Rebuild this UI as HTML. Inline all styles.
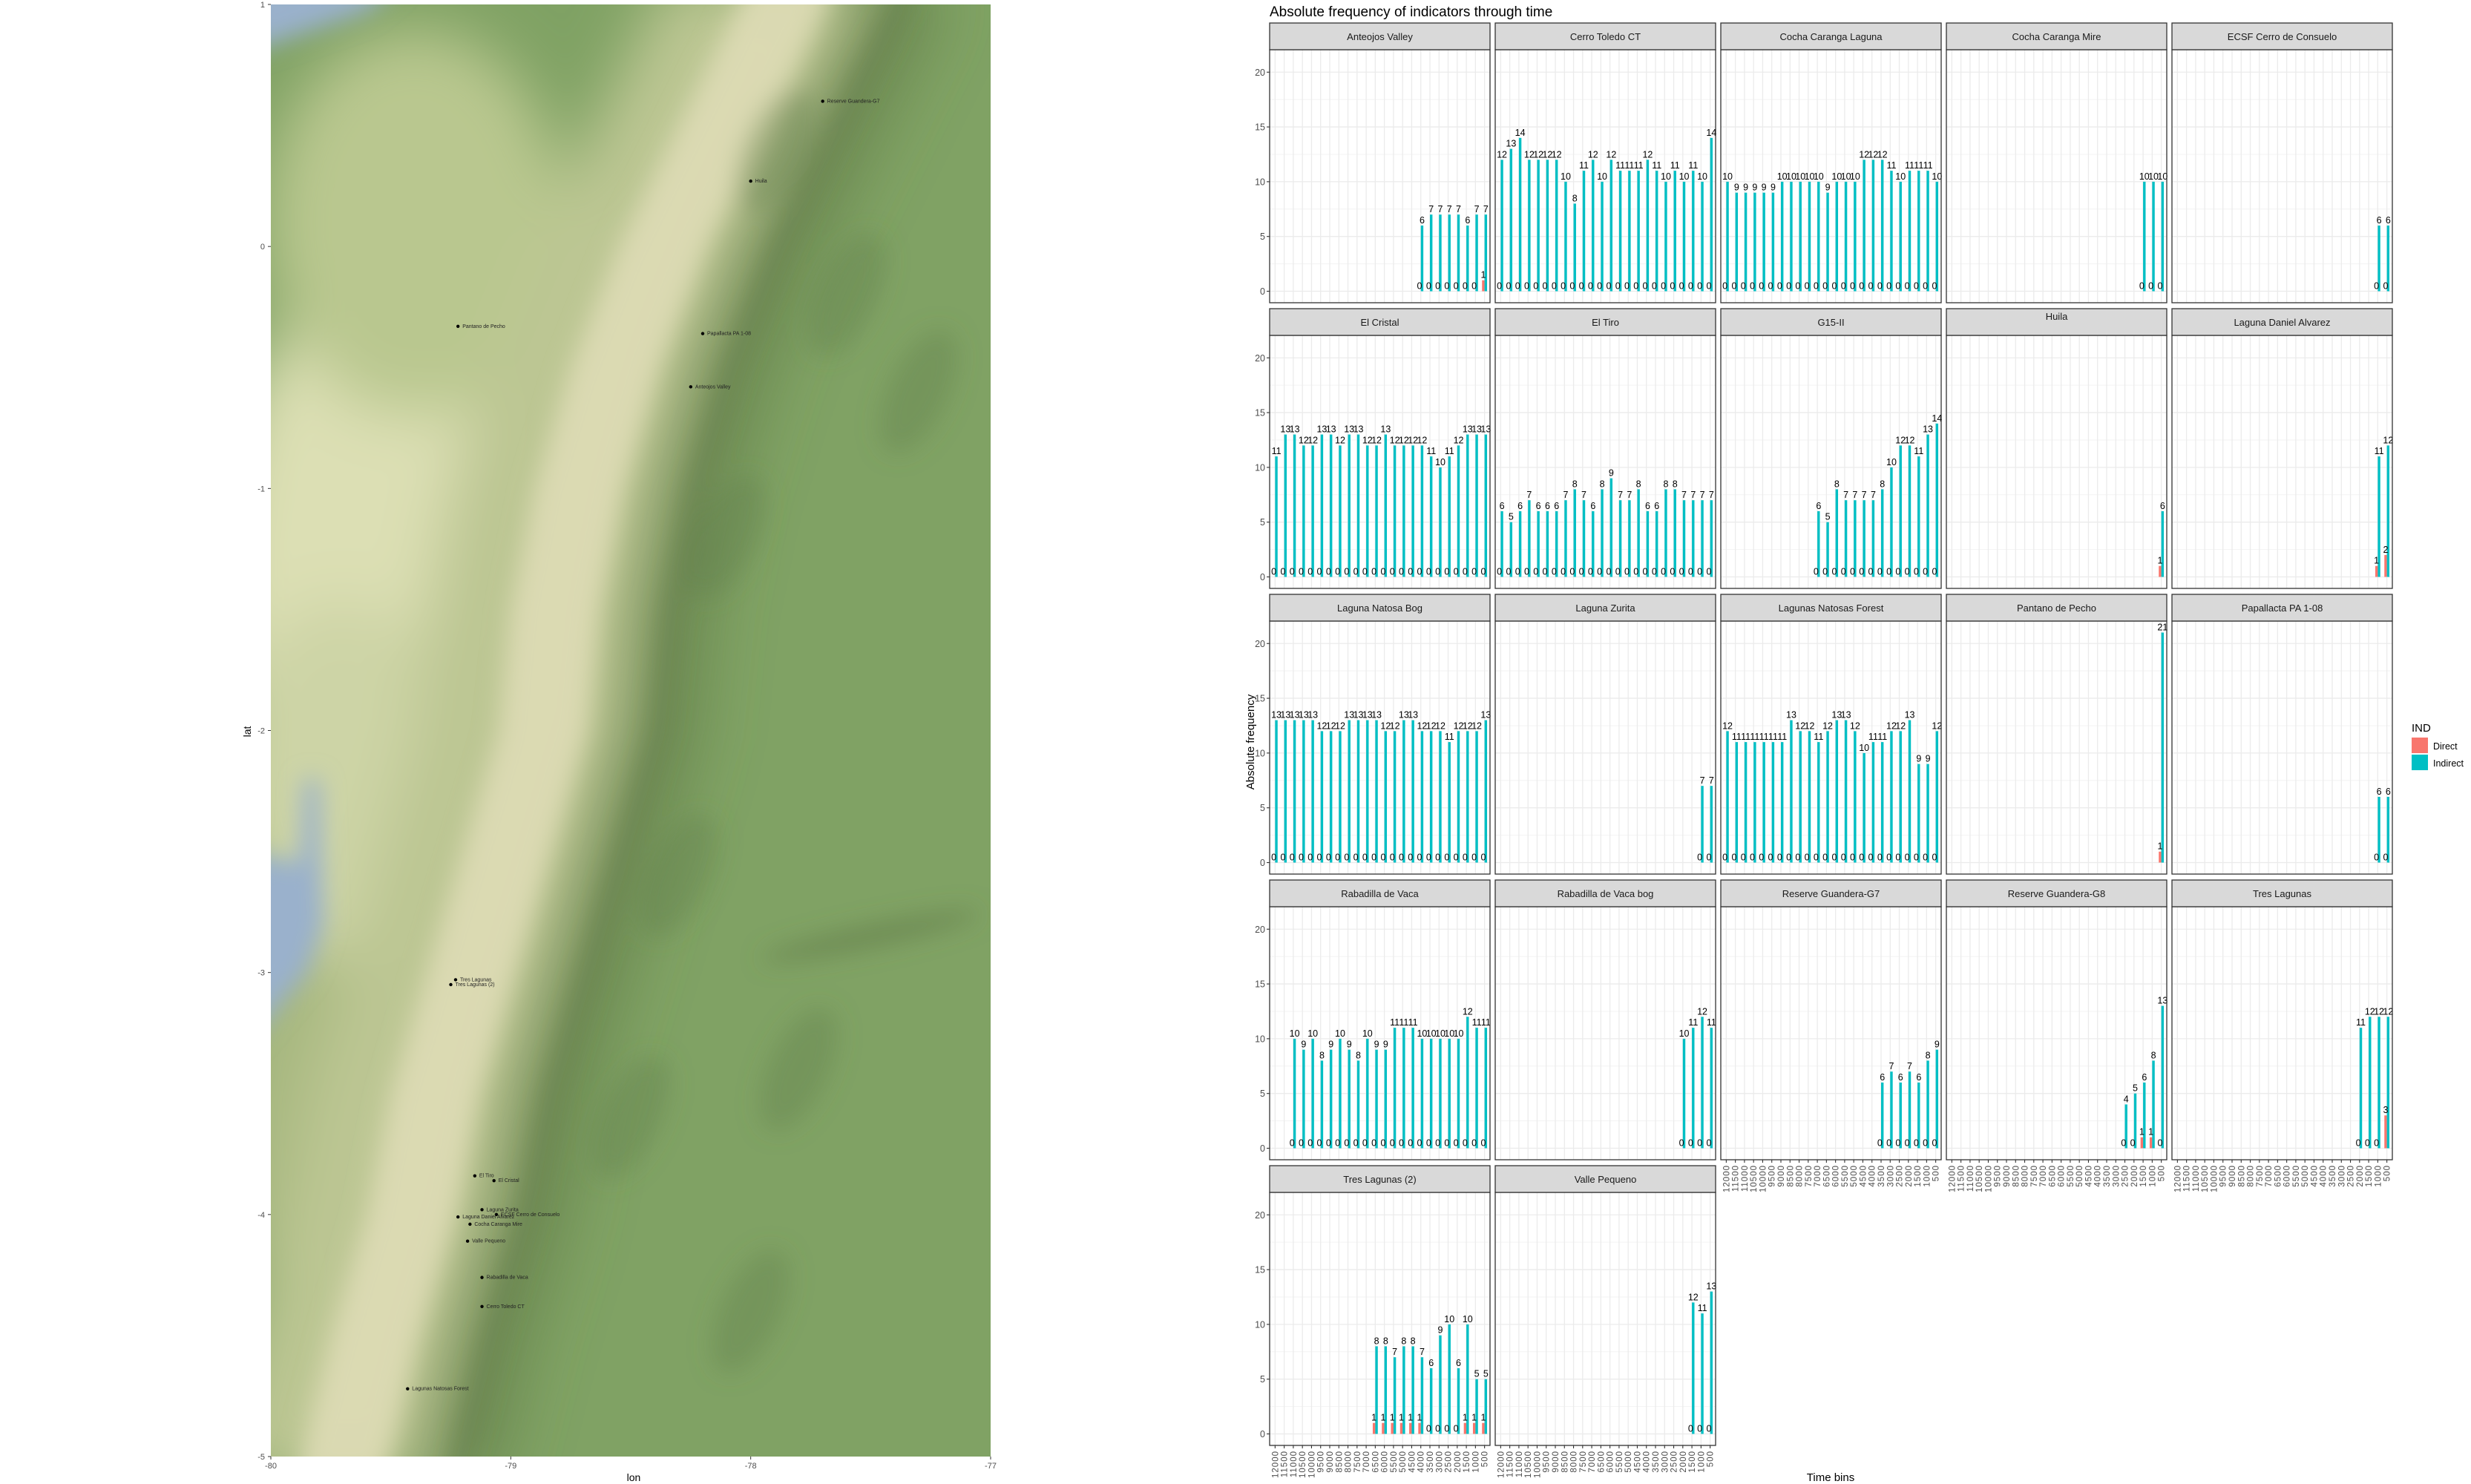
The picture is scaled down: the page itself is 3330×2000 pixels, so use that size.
<!DOCTYPE html>
<html><head><meta charset="utf-8"><title>Absolute frequency of indicators through time</title>
<style>
html,body{margin:0;padding:0;background:#fff;}
svg{display:block;font-family:"Liberation Sans",Arial,sans-serif;}
</style></head>
<body>
<svg id="root" width="3330" height="2000" viewBox="0 0 3330 2000" xmlns="http://www.w3.org/2000/svg">
<defs>
  <clipPath id="mapclip"><rect x="365" y="6" width="970" height="1957"/></clipPath>
  <filter id="blur1" x="-20%" y="-20%" width="140%" height="140%"><feGaussianBlur stdDeviation="40"/></filter>
  <filter id="blur2" x="-20%" y="-20%" width="140%" height="140%"><feGaussianBlur stdDeviation="16"/></filter>
</defs>
<g id="map"></g>
<g id="chart"></g>
</svg>
<script>
// ---------------- MAP DATA ----------------
const siteNames = ["Reserve Guandera-G7","Huila","Pantano de Pecho","Papallacta PA 1-08","Anteojos Valley","Tres Lagunas","Tres Lagunas (2)","El Tiro","El Cristal","Laguna Zurita","ECSF Cerro de Consuelo","Laguna Daniel Alvarez","Cocha Caranga Mire","Valle Pequeno","Rabadilla de Vaca","Cerro Toledo CT","Lagunas Natosas Forest"];
const siteLon = [-77.7,-78.0,-79.22,-78.2,-78.25,-79.23,-79.25,-79.15,-79.07,-79.12,-79.06,-79.22,-79.17,-79.18,-79.12,-79.12,-79.43];
const siteLat = [0.6,0.27,-0.33,-0.36,-0.58,-3.03,-3.05,-3.84,-3.86,-3.98,-4.0,-4.01,-4.04,-4.11,-4.26,-4.38,-4.72];
const latTicks = [1,0,-1,-2,-3,-4,-5];
const lonTicks = [-80,-79,-78,-77];
const ridgeLat = [1.1,0.5,0,-0.5,-1,-1.5,-2,-2.5,-3,-3.5,-4,-4.5,-5.1];
const ridgeLon = [-77.75,-78.05,-78.3,-78.5,-78.65,-78.75,-78.8,-78.95,-79.1,-79.25,-79.35,-79.5,-79.65];

// ---------------- CHART DATA ----------------
const binLabels = ["12000","11500","11000","10500","10000","9500","9000","8500","8000","7500","7000","6500","6000","5500","5000","4500","4000","3500","3000","2500","2000","1500","1000","500"];
const panelNames = ["Anteojos Valley","Cerro Toledo CT","Cocha Caranga Laguna","Cocha Caranga Mire","ECSF Cerro de Consuelo","El Cristal","El Tiro","G15-II","Huila","Laguna Daniel Alvarez","Laguna Natosa Bog","Laguna Zurita","Lagunas Natosas Forest","Pantano de Pecho","Papallacta PA 1-08","Rabadilla de Vaca","Rabadilla de Vaca bog","Reserve Guandera-G7","Reserve Guandera-G8","Tres Lagunas","Tres Lagunas (2)","Valle Pequeno"];
const panelStartBin = [16,0,0,21,22,0,0,10,23,22,0,22,0,23,22,2,20,17,19,20,11,21];
const indirectValues = [
 [6,7,7,7,7,6,7,7],
 [12,13,14,12,12,12,12,10,8,11,12,10,12,11,11,11,12,11,10,11,10,11,10,14],
 [10,9,9,9,9,9,10,10,10,10,10,9,10,10,10,12,12,12,11,10,11,11,11,10],
 [10,10,10],
 [6,6],
 [11,13,13,12,12,13,13,12,13,13,12,12,13,12,12,12,12,11,10,11,12,13,13,13],
 [6,5,6,7,6,6,6,7,8,7,6,8,9,7,7,8,6,6,8,8,7,7,7,7],
 [6,5,8,7,7,7,7,8,10,12,12,11,13,14],
 [6],
 [11,12],
 [13,13,13,13,13,12,12,12,13,13,13,13,12,12,13,13,12,12,12,11,12,12,12,13],
 [7,7],
 [12,11,11,11,11,11,11,13,12,12,11,12,13,13,12,10,11,11,12,12,13,9,9,12],
 [21],
 [6,6],
 [10,9,10,8,9,10,9,8,10,9,9,11,11,11,10,10,10,10,10,12,11,11],
 [10,11,12,11],
 [6,7,6,7,6,8,9],
 [4,5,6,8,13],
 [11,12,12,12],
 [8,8,7,8,8,7,6,9,10,6,10,5,5],
 [12,11,13]
];
const directValues = [
 [0,0,0,0,0,0,0,1],
 [0,0,0,0,0,0,0,0,0,0,0,0,0,0,0,0,0,0,0,0,0,0,0,0],
 [0,0,0,0,0,0,0,0,0,0,0,0,0,0,0,0,0,0,0,0,0,0,0,0],
 [0,0,0],
 [0,0],
 [0,0,0,0,0,0,0,0,0,0,0,0,0,0,0,0,0,0,0,0,0,0,0,0],
 [0,0,0,0,0,0,0,0,0,0,0,0,0,0,0,0,0,0,0,0,0,0,0,0],
 [0,0,0,0,0,0,0,0,0,0,0,0,0,0],
 [1],
 [1,2],
 [0,0,0,0,0,0,0,0,0,0,0,0,0,0,0,0,0,0,0,0,0,0,0,0],
 [0,0],
 [0,0,0,0,0,0,0,0,0,0,0,0,0,0,0,0,0,0,0,0,0,0,0,0],
 [1],
 [0,0],
 [0,0,0,0,0,0,0,0,0,0,0,0,0,0,0,0,0,0,0,0,0,0],
 [0,0,0,0],
 [0,0,0,0,0,0,0],
 [0,0,1,1,0],
 [0,0,0,3],
 [1,1,1,1,1,1,0,0,0,0,1,1,1],
 [0,0,0]
];
const yTicks = [0,5,10,15,20];
const yMinorTicks = [2.5,7.5,12.5,17.5];
const legendLabels = ["Direct","Indirect"];

const NS = "http://www.w3.org/2000/svg";
function mk(parent, tag, attrs, text){
  const e = document.createElementNS(NS, tag);
  for (const k in attrs) e.setAttribute(k, attrs[k]);
  if (text !== undefined) e.textContent = text;
  parent.appendChild(e);
  return e;
}

// ---------------- MAP ----------------
(function(){
  const g = document.getElementById('map');
  const X0=365, W=970, Y0=6, H=1957;
  const lx = lon => X0 + (lon + 80) / 3 * W;
  const ly = lat => Y0 + (1 - lat) / 6 * H;
  const terr = mk(g,'g',{'clip-path':'url(#mapclip)'});
  
  
  mk(terr,'rect',{x:X0,y:Y0,width:W,height:H,fill:'#80a264'});
  const soft = mk(terr,'g',{filter:'url(#blur1)'});
  mk(soft,'ellipse',{cx:lx(-79.6),cy:ly(-1.4),rx:200,ry:420,fill:'#dcdfb4'});
  mk(soft,'ellipse',{cx:lx(-79.4),cy:ly(0.1),rx:200,ry:260,fill:'#b9c78f'});
  mk(soft,'ellipse',{cx:lx(-79.6),cy:ly(-3.6),rx:200,ry:320,fill:'#a7b880'});
  mk(soft,'ellipse',{cx:lx(-79.7),cy:ly(-2.2),rx:160,ry:240,fill:'#cdd4a6'});
  let west=[], east=[], core=[], coreE=[], dark=[];
  for (let i=0;i<ridgeLat.length;i++){
    west.push(lx(ridgeLon[i]-0.6)+','+ly(ridgeLat[i]));
    east.push(lx(ridgeLon[i]+0.3)+','+ly(ridgeLat[i]));
    core.push(lx(ridgeLon[i]-0.25)+','+ly(ridgeLat[i]));
    coreE.push(lx(ridgeLon[i]+0.12)+','+ly(ridgeLat[i]));
    dark.push(lx(ridgeLon[i]+0.42)+','+ly(ridgeLat[i]));
  }
  mk(soft,'polygon',{points:west.concat(east.slice().reverse()).join(' '),fill:'#bcc693'});
  mk(soft,'polyline',{points:dark.join(' '),fill:'none',stroke:'#5d7745',"stroke-width":110,opacity:0.55});
  const s2 = mk(terr,'g',{filter:'url(#blur2)'});
  mk(s2,'polygon',{points:core.concat(coreE.slice().reverse()).join(' '),fill:'#dedcb6',opacity:0.9});
  mk(s2,'polyline',{points:dark.join(' '),fill:'none',stroke:'#56703f',"stroke-width":30,opacity:0.35});
  const patchLon = [-77.9,-77.6,-77.3,-78.1,-77.8,-78.3,-78.5,-78.0];
  const patchLat = [0.4,-0.2,-0.6,-1.2,-3.4,-2.6,-3.6,-4.4];
  for (let i=0;i<patchLon.length;i++){
    mk(s2,'ellipse',{cx:lx(patchLon[i]),cy:ly(patchLat[i]),rx:40,ry:90,fill:'#5f7a48',opacity:0.35,transform:'rotate(25 '+lx(patchLon[i])+' '+ly(patchLat[i])+')'});
  }
  mk(s2,'ellipse',{cx:lx(-77.5),cy:ly(-2.85),rx:150,ry:14,fill:'#5f7a48',opacity:0.6,transform:'rotate(-12 '+lx(-77.5)+' '+ly(-2.85)+')'});
  mk(s2,'polygon',{points:[lx(-80.1)+','+ly(1.1),lx(-79.45)+','+ly(1.1),lx(-79.6)+','+ly(0.97),lx(-80.1)+','+ly(0.8)].join(' '),fill:'#9ab1cc'});
  mk(s2,'polygon',{points:[lx(-80.1)+','+ly(-2.5),lx(-79.88)+','+ly(-2.55),lx(-79.86)+','+ly(-2.2),lx(-79.8)+','+ly(-2.2),lx(-79.78)+','+ly(-2.8),lx(-79.85)+','+ly(-3.0),lx(-80.1)+','+ly(-3.3)].join(' '),fill:'#9ab1cc'});
  for (let i=0;i<siteNames.length;i++){
    const c = mk(g,'circle',{cx:lx(siteLon[i]),cy:ly(siteLat[i]),r:2.2,fill:'#000'});
    
    
    const t = mk(g,'text',{x:lx(siteLon[i])+6,y:ly(siteLat[i])+2,'font-size':7,fill:'#222'},siteNames[i]);
    
    
  }
  latTicks.forEach(v=>{
    mk(g,'line',{x1:X0-4,x2:X0,y1:ly(v),y2:ly(v),stroke:'#333','stroke-width':1});
    const t = mk(g,'text',{x:X0-8,y:ly(v)+4,'font-size':11,fill:'#4d4d4d','text-anchor':'end'},String(v));
    
    
  });
  lonTicks.forEach(v=>{
    mk(g,'line',{x1:lx(v),x2:lx(v),y1:Y0+H,y2:Y0+H+4,stroke:'#333','stroke-width':1});
    const t = mk(g,'text',{x:lx(v),y:Y0+H+16,'font-size':11,fill:'#4d4d4d','text-anchor':'middle'},String(v));
    
    
  });
  const la = mk(g,'text',{x:0,y:0,'font-size':14,fill:'#000','text-anchor':'middle',transform:'translate(338,986) rotate(-90)'},'lat');
  
  
  const lo = mk(g,'text',{x:854,y:1996,'font-size':14,fill:'#000','text-anchor':'middle'},'lon');
  
  
})();

// ---------------- CHART ----------------
(function(){
  const g = document.getElementById('chart');
  const LEFT=1711, COLP=304, PW=297, TOP=31, ROWP=385, SH=36, PH=341;
  const nb = binLabels.length;
  const unit = PW / (nb - 1 + 1.2);
  const yLo=-1.05, yHi=22.05;
  const title = mk(g,'text',{x:LEFT,y:22,'font-size':19,fill:'#000'},'Absolute frequency of indicators through time');
  
  

  panelNames.forEach((name,p)=>{
    const col = p % 5, row = Math.floor(p / 5);
    const px = LEFT + col*COLP, sy = TOP + row*ROWP, py = sy + SH, pb = py + PH;
    const xs = i => px + (0.6 + i) * unit;
    const ys = v => pb - (v - yLo) / (yHi - yLo) * PH;
    const pg = mk(g,'g',{});
    
    
    mk(pg,'rect',{x:px,y:py,width:PW,height:PH,fill:'#fff'});
    yMinorTicks.forEach(v=>mk(pg,'line',{x1:px,x2:px+PW,y1:ys(v),y2:ys(v),stroke:'#f3f3f3','stroke-width':1}));
    yTicks.forEach(v=>mk(pg,'line',{x1:px,x2:px+PW,y1:ys(v),y2:ys(v),stroke:'#ebebeb','stroke-width':1.3}));
    for (let i=0;i<nb;i++) mk(pg,'line',{x1:xs(i),x2:xs(i),y1:py,y2:pb,stroke:'#ebebeb','stroke-width':1.3});
    const ind = indirectValues[p], dir = directValues[p], st = panelStartBin[p];
    const bw = 3.4;
    for (let k=0;k<ind.length;k++){
      const c = xs(st + k);
      const rd = mk(pg,'rect',{x:c-bw,y:ys(dir[k]),width:bw,height:Math.max(0,ys(0)-ys(dir[k])),fill:'#f8766d'});
      
      
      const cy = mk(pg,'rect',{x:c,y:ys(ind[k]),width:bw,height:ys(0)-ys(ind[k]),fill:'#00bfc4'});
      
      
      const t1 = mk(pg,'text',{x:c-bw/2,y:ys(dir[k])-3,'font-size':12.5,fill:'#000','text-anchor':'middle'},String(dir[k]));
      
      
      const t2 = mk(pg,'text',{x:c+bw/2,y:ys(ind[k])-3,'font-size':12.5,fill:'#000','text-anchor':'middle'},String(ind[k]));
      
      
    }
    mk(pg,'rect',{x:px,y:py,width:PW,height:PH,fill:'none',stroke:'#333','stroke-width':1.3});
    const strip = mk(pg,'rect',{x:px,y:sy,width:PW,height:SH,fill:'#d9d9d9',stroke:'#333','stroke-width':1.3});
    
    
    const st2 = mk(pg,'text',{x:px+PW/2,y:sy+(name==='Huila'?15:23),'font-size':13,fill:'#1a1a1a','text-anchor':'middle'},name);
    
    
    if (col===0){
      yTicks.forEach(v=>{
        mk(g,'line',{x1:px-4,x2:px,y1:ys(v),y2:ys(v),stroke:'#333','stroke-width':1.1});
        const t = mk(g,'text',{x:px-6,y:ys(v)+4.5,'font-size':12.5,fill:'#4d4d4d','text-anchor':'end'},String(v));
        
        
      });
    }
    const bottom = (col<=1 && row===4) || (col>=2 && row===3);
    if (bottom){
      for (let i=0;i<nb;i++){
        mk(g,'line',{x1:xs(i),x2:xs(i),y1:pb,y2:pb+4,stroke:'#333','stroke-width':1.1});
        const t = mk(g,'text',{x:0,y:0,'font-size':11.5,fill:'#4d4d4d','text-anchor':'end',transform:'translate('+(xs(i)+4)+','+(pb+7)+') rotate(-90)','letter-spacing':'1'},binLabels[i]);
        
        
      }
    }
  });

  const yt = mk(g,'text',{x:0,y:0,'font-size':15,fill:'#000','text-anchor':'middle',transform:'translate(1690,1000) rotate(-90)'},'Absolute frequency');
  
  
  const xt = mk(g,'text',{x:2467,y:1996,'font-size':15,fill:'#000','text-anchor':'middle'},'Time bins');
  
  

  const lg = mk(g,'g',{});
  
  
  const lt = mk(lg,'text',{x:3250,y:986,'font-size':15,fill:'#000'},'IND');
  
  
  const cols = ['#f8766d','#00bfc4'];
  legendLabels.forEach((lab,i)=>{
    const r = mk(lg,'rect',{x:3250,y:994+i*23,width:22,height:21,fill:cols[i]});
    
    
    const t = mk(lg,'text',{x:3279,y:1010+i*23,'font-size':12.5,fill:'#000'},lab);
    
    
  });
})();
</script>
</body></html>
